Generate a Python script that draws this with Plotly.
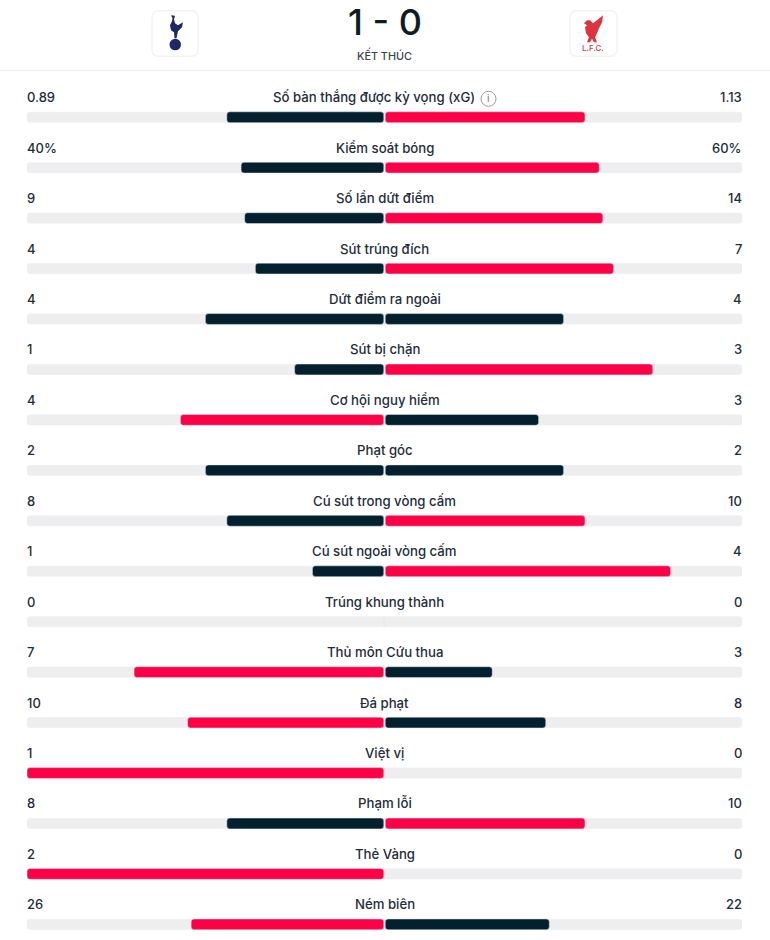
import plotly.graph_objects as go

# thong ke tran dau
stat_names = ["Số bàn thắng được kỳ vọng (xG)", "Kiểm soát bóng", "Số lần dứt điểm", "Sút trúng đích",
              "Dứt điểm ra ngoài", "Sút bị chặn", "Cơ hội nguy hiểm", "Phạt góc", "Cú sút trong vòng cấm",
              "Cú sút ngoài vòng cấm", "Trúng khung thành", "Thủ môn Cứu thua", "Đá phạt", "Việt vị",
              "Phạm lỗi", "Thẻ Vàng", "Ném biên"]
home_values = [0.89, 40, 9, 4, 4, 1, 4, 2, 8, 1, 0, 7, 10, 1, 8, 2, 26]
away_values = [1.13, 60, 14, 7, 4, 3, 3, 2, 10, 4, 0, 3, 8, 0, 10, 0, 22]
home_text = ["0.89", "40%", "9", "4", "4", "1", "4", "2", "8", "1", "0", "7", "10", "1", "8", "2", "26"]
away_text = ["1.13", "60%", "14", "7", "4", "3", "3", "2", "10", "4", "0", "3", "8", "0", "10", "0", "22"]

DARK = "#04202f"
RED = "#ff0046"
TRACK = "#eeeeee"
TEXT = "#1f2d3a"
FONT = "Inter"
W, H = 770, 940
LEFT, RIGHT, TOP = 27, 742, 91.67
GAP = 0.002

# ti le lam tron xuong 2 chu so nhu tren trang goc
home_share = [int(100 * a / (a + b)) / 100 if a + b else 0 for a, b in zip(home_values, away_values)]
away_share = [round(1 - s, 2) if a + b else 0 for s, a, b in zip(home_share, home_values, away_values)]
# ben cao hon mau do, ben con lai mau toi
home_color = [RED if a > b else DARK for a, b in zip(home_values, away_values)]
away_color = [RED if b > a else DARK for a, b in zip(home_values, away_values)]

fig = go.Figure()
fig.add_trace(go.Bar(y=stat_names, x=[-1] * 17, orientation="h", width=0.2,
                     marker=dict(color=TRACK, cornerradius=3)))
fig.add_trace(go.Bar(y=stat_names, x=[1] * 17, orientation="h", width=0.2,
                     marker=dict(color=TRACK, cornerradius=3)))
fig.add_trace(go.Bar(y=stat_names, x=[-s * (1 - GAP) for s in home_share], base=-GAP, orientation="h", width=0.215,
                     marker=dict(color=home_color, cornerradius=3)))
fig.add_trace(go.Bar(y=stat_names, x=[s * (1 - GAP) for s in away_share], base=GAP, orientation="h", width=0.215,
                     marker=dict(color=away_color, cornerradius=3)))


# doi toa do pixel sang paper (paper tinh theo vung ve)
def px(x):
    return (x - LEFT) / (RIGHT - LEFT)


def py(y):
    return 1 - (y - TOP) / (H - TOP)


def pt(x, y):
    return f"{px(x):.5f},{py(y):.5f}"


def path(points):
    return "M " + " L ".join(pt(x, y) for x, y in points) + " Z"


def card(x0, x1, y0=10.5, y1=56, r=7):
    d = (f"M {pt(x0 + r, y0)} L {pt(x1 - r, y0)} Q {pt(x1, y0)} {pt(x1, y0 + r)} "
         f"L {pt(x1, y1 - r)} Q {pt(x1, y1)} {pt(x1 - r, y1)} "
         f"L {pt(x0 + r, y1)} Q {pt(x0, y1)} {pt(x0, y1 - r)} "
         f"L {pt(x0, y0 + r)} Q {pt(x0, y0)} {pt(x0 + r, y0)} Z")
    return dict(type="path", xref="paper", yref="paper", path=d, fillcolor="white",
                line=dict(color="#f3f3f3", width=1.5))


# logo 2 doi ve tay
NAVY = "#1b2a63"
LIVER = "#dc3540"
cockerel = [(171, 15), (175, 15.5), (174, 19), (175, 23), (178, 25), (183, 22), (182, 27), (178, 31),
            (176.5, 38), (174.5, 38), (174, 32), (171, 30), (170, 25), (172, 21), (172.5, 18)]
liver_bird = [(603, 15), (602, 22), (599, 28), (597, 33), (595, 37), (597, 42), (594, 42), (592, 38.5),
              (590, 42), (587, 42), (589, 37), (586, 33), (585, 27), (587, 25), (584, 23), (587, 20),
              (590, 20), (593, 23), (597, 20)]

shapes = [
    card(152, 198), card(570, 617),
    dict(type="line", xref="paper", yref="paper", x0=px(0), x1=px(W), y0=py(70), y1=py(70), line=dict(color="#ececec", width=1)),
    dict(type="path", xref="paper", yref="paper", path=path(cockerel), fillcolor=NAVY, line=dict(width=0)),
    dict(type="circle", xref="paper", yref="paper", x0=px(169.5), x1=px(181), y0=py(50), y1=py(38.5), fillcolor=NAVY, line=dict(width=0)),
    dict(type="path", xref="paper", yref="paper", path=path(liver_bird), fillcolor=LIVER, line=dict(width=0)),
    dict(type="circle", xref="paper", yref="paper", x0=px(481), x1=px(496), y0=py(106), y1=py(91), fillcolor="white", line=dict(color="#9a9a9a", width=1)),
]


def label(x, y, text, size=12.5, color=TEXT, anchor="center"):
    return dict(xref="paper", yref="paper", x=px(x), y=py(y), text=text, showarrow=False, xanchor=anchor,
                yanchor="middle", font=dict(family=FONT, size=size, color=color, weight=500))


annotations = [
    label(384.5, 22, "1 - 0", size=36, color="#0f1c24"),
    label(384, 55, "KẾT THÚC", size=10.8, color="#3a4450"),
    label(593, 47.5, "L.F.C.", size=8, color=LIVER),
    label(488.5, 98, "i", size=10, color="#8a8a8a"),
]
for i, name in enumerate(stat_names):
    for x, text, anchor, xshift, size in [(0, home_text[i], "left", -2, 13), (0.5, name, "center", -11 if i == 0 else 0, 13.2),
                                          (1, away_text[i], "right", 2, 13)]:
        annotations.append(dict(xref="paper", yref="y", x=x, y=name, yshift=20, xshift=xshift, text=text,
                                showarrow=False, xanchor=anchor, yanchor="middle",
                                font=dict(family=FONT, size=size, color=TEXT, weight=500)))

fig.update_layout(
    width=W, height=H, autosize=False, barmode="overlay", showlegend=False,
    paper_bgcolor="white", plot_bgcolor="white",
    margin=dict(l=LEFT, r=W - RIGHT, t=TOP, b=0, pad=0),
    xaxis=dict(range=[-1, 1], visible=False, fixedrange=True),
    yaxis=dict(range=[16.31, -0.5], visible=False, fixedrange=True, type="category",
               categoryorder="array", categoryarray=stat_names),
    shapes=shapes, annotations=annotations,
)

fig.write_html("out.html", config=dict(displayModeBar=False),
               post_script="document.body.style.margin='0';document.body.style.overflow='hidden';")
